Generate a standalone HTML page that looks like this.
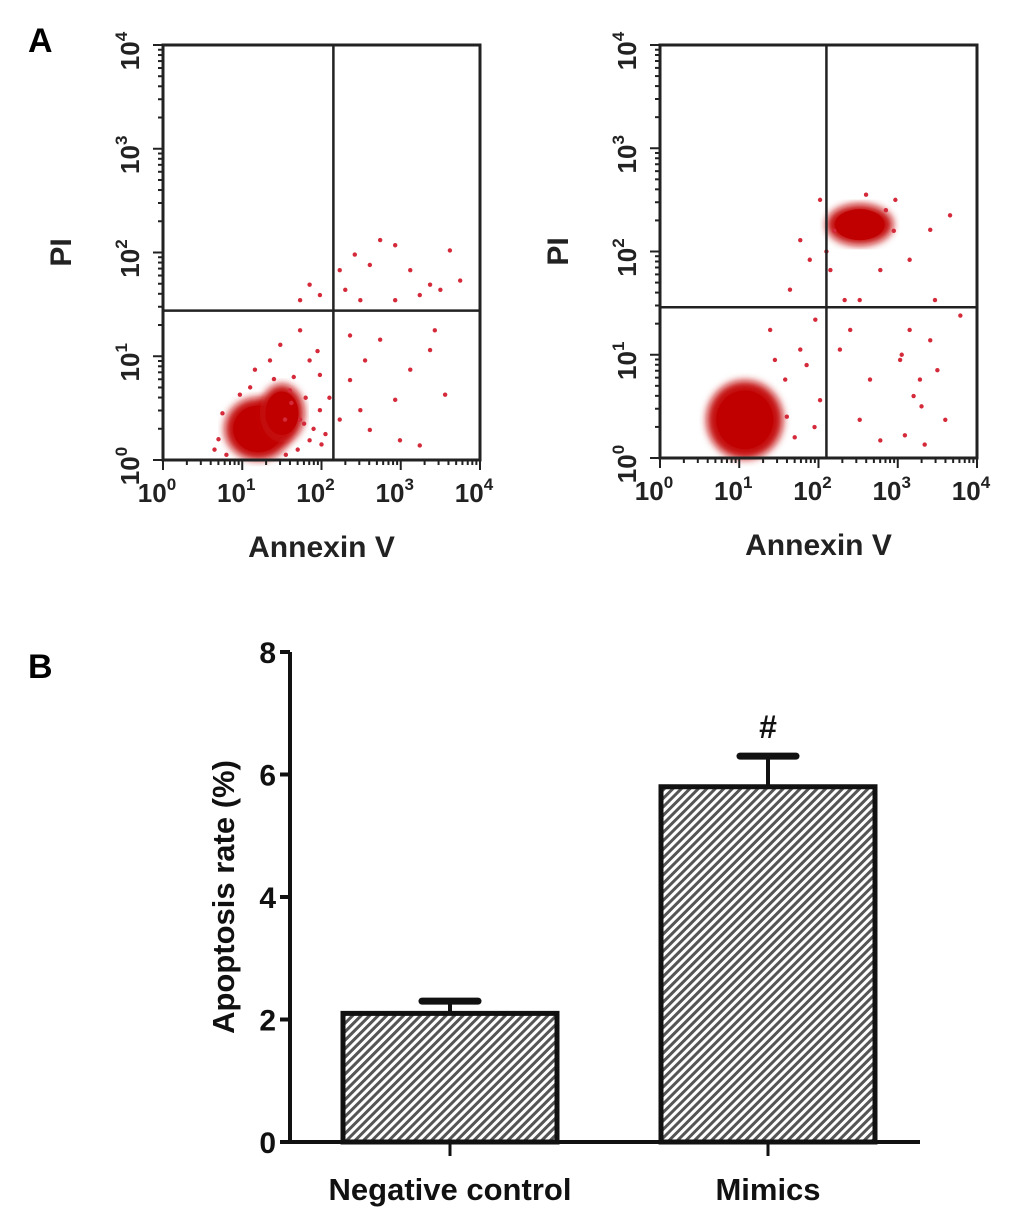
<!DOCTYPE html>
<html><head><meta charset="utf-8">
<style>
html,body{margin:0;padding:0;background:#fff;}
svg{display:block;font-family:"Liberation Sans",sans-serif;}
text{font-weight:bold;}
</style></head>
<body>
<svg id="fig" width="1010" height="1220" viewBox="0 0 1010 1220" xmlns="http://www.w3.org/2000/svg">
<defs>
<pattern id="hatch" patternUnits="userSpaceOnUse" width="6" height="6" patternTransform="rotate(45)">
<rect width="6" height="6" fill="#fff"/>
<rect width="3" height="6" fill="#555"/>
</pattern>
<filter id="blur"><feGaussianBlur stdDeviation="4"/></filter>
</defs>
<text x="28" y="52" font-size="34" font-weight="bold">A</text>
<text x="28" y="678" font-size="34" font-weight="bold">B</text>
<g id="plots"></g>
<g id="bars"></g>
</svg>
<script>
// ---------- Panel A data (log10 units) ----------
const leftCoreX = [1.2, 1.5];
const leftCoreY = [0.3, 0.45];
const leftCoreRX = [0.42, 0.28];
const leftCoreRY = [0.3, 0.28];
const leftPtsX = [2.23,2.42,2.61,2.74,2.93,3.12,3.37,3.62,3.50,2.30,2.49,1.73,1.85,1.98,2.93,3.24,3.75,2.36,2.55,2.74,2.93,3.12,3.37,3.43,3.56,2.61,2.99,3.24,2.36,2.23,2.49,1.73,1.85,1.60,1.48,1.35,1.98,1.85,1.73,1.54,1.98,0.97,1.16,0.70,0.75,1.80,1.90,1.65,1.70,2.05,1.95,0.80,1.10,1.40,1.62,1.78,2.10,2.00,1.55,0.65];
const leftPtsY = [1.83,1.98,1.88,2.12,2.07,1.83,1.69,2.02,1.64,1.64,1.54,1.54,1.69,1.59,1.54,1.59,1.73,1.20,0.96,1.16,0.58,0.87,1.06,1.25,0.63,0.29,0.19,0.14,0.77,0.39,0.48,1.25,0.96,0.67,1.11,0.96,0.48,0.19,0.39,0.39,0.82,0.63,0.87,0.20,0.45,0.60,0.30,0.80,0.10,0.25,1.05,0.05,0.70,0.78,0.55,0.35,0.60,0.15,0.05,0.10];
const leftGateX = 2.15, leftGateY = 1.44;

const rightCoreX = [1.07, 2.52];
const rightCoreY = [0.37, 2.26];
const rightCoreRX = [0.48, 0.42];
const rightCoreRY = [0.38, 0.2];
const rightPtsX = [1.77,1.89,1.64,1.96,1.77,1.58,2.02,2.27,2.40,2.52,2.78,3.03,3.15,3.28,3.41,3.47,3.60,3.09,2.65,3.79,3.66,3.41,3.15,2.97,2.02,2.15,1.39,1.45,2.52,2.78,3.34,2.33,1.60,1.70,1.85,2.20,2.10,2.95,3.05,3.30,1.95,2.60,2.85,3.20,3.50];
const rightPtsY = [2.11,1.92,1.63,1.34,1.05,0.76,0.56,1.05,1.24,0.37,0.17,0.95,1.24,0.76,1.14,1.53,0.37,0.22,0.76,1.38,2.35,2.21,1.92,2.50,2.50,1.82,1.24,0.95,1.53,1.82,0.13,1.53,0.40,0.20,0.90,2.20,2.00,2.20,1.00,0.50,0.30,2.55,2.40,0.60,0.85];
const rightGateX = 2.1, rightGateY = 1.46;

const decadeLabels = ["0","1","2","3","4"];

// ---------- Panel B data ----------
const categories = ["Negative control","Mimics"];
const barValues = [2.1, 5.8];
const errValues = [0.2, 0.5];
const yTicks = [0,2,4,6,8];

const NS="http://www.w3.org/2000/svg";
function mk(tag, attrs, parent){const e=document.createElementNS(NS,tag);for(const k in attrs)e.setAttribute(k,attrs[k]);parent.appendChild(e);return e;}

function drawFlow(g, box, coreX, coreY, coreRX, coreRY, px, py, gx, gy, tag){
  const sx = v => box.x0 + v/4*(box.x1-box.x0);
  const sy = v => box.y1 - v/4*(box.y1-box.y0);
  const pg = mk('g',{},g);
  
  
  for(let i=0;i<coreX.length;i++){
    const e=mk('ellipse',{cx:sx(coreX[i]),cy:sy(coreY[i]),rx:(coreRX[i])*(box.x1-box.x0)/4,ry:(coreRY[i])*(box.y1-box.y0)/4,fill:'#c40a0a',filter:'url(#blur)'},pg);
    
    
    const e2=mk('ellipse',{cx:sx(coreX[i]),cy:sy(coreY[i]),rx:(coreRX[i])*(box.x1-box.x0)/4*0.75,ry:(coreRY[i])*(box.y1-box.y0)/4*0.75,fill:'#c00000'},pg);
    
    
  }
  for(let i=0;i<px.length;i++){
    const c=mk('circle',{cx:sx(px[i]),cy:sy(py[i]),r:2.2,fill:'#d42a3a'},pg);
    
    
  }
  for(let d=0; d<4; d++){
    for(let m=1;m<10;m++){
      const v=d+Math.log10(m);
      const len = m===1?10:5;
      mk('line',{x1:sx(v),x2:sx(v),y1:box.y1,y2:box.y1+len,stroke:'#222','stroke-width':2},pg);
      mk('line',{x1:box.x0,x2:box.x0-len,y1:sy(v),y2:sy(v),stroke:'#222','stroke-width':2},pg);
    }
  }
  mk('line',{x1:sx(4),x2:sx(4),y1:box.y1,y2:box.y1+10,stroke:'#222','stroke-width':2},pg);
  mk('line',{x1:box.x0,x2:box.x0-10,y1:sy(4),y2:sy(4),stroke:'#222','stroke-width':2},pg);
  const fr=mk('rect',{x:box.x0,y:box.y0,width:box.x1-box.x0,height:box.y1-box.y0,fill:'none',stroke:'#222','stroke-width':3},pg);
  
  
  const gv=mk('line',{x1:sx(gx),x2:sx(gx),y1:box.y0,y2:box.y1,stroke:'#222','stroke-width':2.5},pg);
  
  
  const gh=mk('line',{x1:box.x0,x2:box.x1,y1:sy(gy),y2:sy(gy),stroke:'#222','stroke-width':2.5},pg);
  
  
  decadeLabels.forEach((lab,i)=>{
    const t=mk('text',{x:sx(i)-6,y:box.y1+42,'font-size':26,'font-weight':'bold','text-anchor':'middle',fill:'#222'},pg);
    t.textContent='10';
    const s=mk('tspan',{dy:-12,'font-size':17},t); s.textContent=lab;
    
    
    const ty=mk('text',{x:0,y:0,'font-size':26,'font-weight':'bold','text-anchor':'middle',fill:'#222',transform:`translate(${box.x0-24},${sy(i)+6}) rotate(-90)`},pg);
    ty.textContent='10';
    const s2=mk('tspan',{dy:-12,'font-size':17},ty); s2.textContent=lab;
    
    
  });
  const xt=mk('text',{x:(box.x0+box.x1)/2,y:box.y1+97,'font-size':30,'font-weight':'bold','text-anchor':'middle',fill:'#222'},pg);
  xt.textContent='Annexin V';
  
  
  const yt=mk('text',{x:0,y:0,'font-size':30,'font-weight':'bold','text-anchor':'middle',fill:'#222',transform:`translate(${box.x0-92},${(box.y0+box.y1)/2}) rotate(-90)`},pg);
  yt.textContent='PI';
  
  
}
const plots=document.getElementById('plots');
drawFlow(plots,{x0:163,x1:480,y0:45,y1:460},leftCoreX,leftCoreY,leftCoreRX,leftCoreRY,leftPtsX,leftPtsY,leftGateX,leftGateY,'negative-control');
drawFlow(plots,{x0:660,x1:977,y0:45,y1:458},rightCoreX,rightCoreY,rightCoreRX,rightCoreRY,rightPtsX,rightPtsY,rightGateX,rightGateY,'mimics');

// ---------- bar chart ----------
const bars=document.getElementById('bars');
const ax={x0:290,x1:920,y0:1142,y1:652,max:8};
const yS=v=>ax.y0-(v/ax.max)*(ax.y0-ax.y1);
const centers=[450,768], bw=214;
const yl=mk('line',{x1:ax.x0,x2:ax.x0,y1:ax.y1,y2:ax.y0+2,stroke:'#111','stroke-width':4},bars);
 
yTicks.forEach(v=>{
  mk('line',{x1:ax.x0-10,x2:ax.x0,y1:yS(v),y2:yS(v),stroke:'#111','stroke-width':4},bars);
  const t=mk('text',{x:ax.x0-14,y:yS(v)+11,'font-size':30,'font-weight':'bold','text-anchor':'end',fill:'#111'},bars);
  t.textContent=v;
   
});
categories.forEach((c,i)=>{
  const cx=centers[i];
  const top=yS(barValues[i]);
  const eb=yS(barValues[i]+errValues[i]);
  const l=mk('line',{x1:cx,x2:cx,y1:top,y2:eb,stroke:'#111','stroke-width':4},bars);
   
  const cap=mk('line',{x1:cx-28,x2:cx+28,y1:eb,y2:eb,stroke:'#111','stroke-width':7,'stroke-linecap':'round'},bars);
   
  const r=mk('rect',{x:cx-bw/2,y:top,width:bw,height:ax.y0-top,fill:'url(#hatch)',stroke:'#111','stroke-width':5},bars);
   
  mk('line',{x1:cx,x2:cx,y1:ax.y0,y2:ax.y0+14,stroke:'#111','stroke-width':3},bars);
  const t=mk('text',{x:cx,y:1200,'font-size':31,'font-weight':'bold','text-anchor':'middle',fill:'#111'},bars);
  t.textContent=c;
   
});
const xl=mk('line',{x1:ax.x0,x2:ax.x1,y1:ax.y0,y2:ax.y0,stroke:'#111','stroke-width':4},bars);
 
const sig=mk('text',{x:centers[1],y:yS(barValues[1]+errValues[1])-18,'font-size':32,'font-weight':'bold','text-anchor':'middle',fill:'#111'},bars);
sig.textContent='#';
 
const yt=mk('text',{x:0,y:0,'font-size':31,'font-weight':'bold','text-anchor':'middle',fill:'#111',transform:`translate(234,${(ax.y0+ax.y1)/2 + 0}) rotate(-90)`},bars);
yt.textContent='Apoptosis rate (%)';
 
</script>
</body></html>
